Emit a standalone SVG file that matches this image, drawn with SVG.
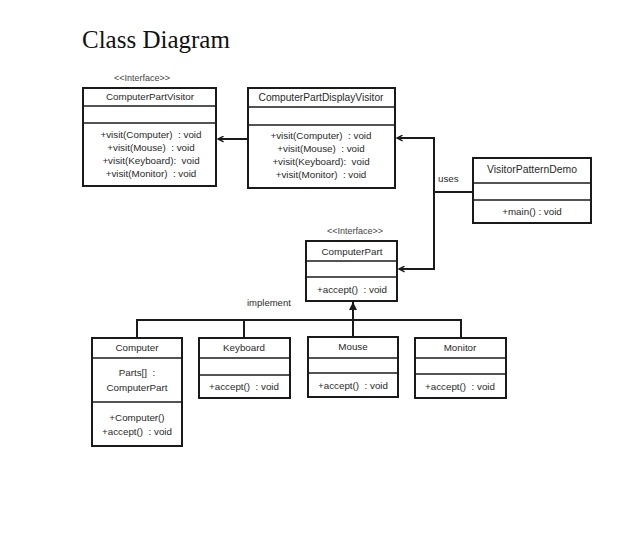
<svg xmlns="http://www.w3.org/2000/svg" width="628" height="546" viewBox="0 0 628 546">
<defs>
<marker id="open" viewBox="0 0 10 10" refX="9" refY="5" markerWidth="7" markerHeight="7" markerUnits="userSpaceOnUse" orient="auto">
<path d="M1,1 L9,5 L1,9" fill="none" stroke="#1a1a1a" stroke-width="2"/>
</marker>
<marker id="filled" viewBox="0 0 10 10" refX="10" refY="5" markerWidth="10" markerHeight="8" markerUnits="userSpaceOnUse" orient="auto">
<path d="M0,0 L10,5 L0,10 Z" fill="#1a1a1a"/>
</marker>
</defs>
<style>
.box{fill:#fff;stroke:#1a1a1a;stroke-width:2}
.div{stroke:#1a1a1a;stroke-width:1.6}
.t{font-family:"Liberation Sans",Arial,sans-serif;font-size:9.8px;fill:#2a2a2a;text-anchor:middle;white-space:pre}
.s{font-family:"Liberation Sans",Arial,sans-serif;font-size:9px;fill:#444;text-anchor:middle}
.c{fill:none;stroke:#1a1a1a;stroke-width:2}
</style>
<rect width="628" height="546" fill="#fff"/>
<text x="82" y="48" font-family="Liberation Serif,'Times New Roman',serif" font-size="25" fill="#111">Class Diagram</text>

<g id="connectors">
<line class="c" x1="248" y1="139" x2="218" y2="139" marker-end="url(#open)"/>
<polyline class="c" points="473,192 434,192"/>
<polyline class="c" points="434,192 434,138 397,138" marker-end="url(#open)"/>
<polyline class="c" points="434,192 434,269 399,269" marker-end="url(#open)"/>
<text x="438" y="182" class="t" style="text-anchor:start">uses</text>
<polyline class="c" points="137,338 137,320 461,320 461,338"/>
<line class="c" x1="244" y1="320" x2="244" y2="338"/>
<line class="c" x1="353" y1="337" x2="353" y2="302" marker-end="url(#filled)"/>
<text x="247" y="306" class="t" style="text-anchor:start;font-size:9.5px">implement</text>
</g>

<g id="ComputerPartVisitor">
<text x="142" y="81" class="s">&lt;&lt;Interface&gt;&gt;</text>
<rect class="box" x="83" y="88" width="133" height="98"/>
<line class="div" x1="83" y1="106" x2="216" y2="106"/>
<line class="div" x1="83" y1="123" x2="216" y2="123"/>
<text x="150" y="100" class="t">ComputerPartVisitor</text>
<text x="151" y="138" class="t">+visit(Computer)  : void</text>
<text x="151" y="151" class="t">+visit(Mouse)  : void</text>
<text x="151" y="164" class="t">+visit(Keyboard):  void</text>
<text x="151" y="177" class="t">+visit(Monitor)  : void</text>
</g>

<g id="ComputerPartDisplayVisitor">
<rect class="box" x="248" y="88" width="147" height="100"/>
<line class="div" x1="248" y1="107" x2="395" y2="107"/>
<line class="div" x1="248" y1="125" x2="395" y2="125"/>
<text x="321" y="101" class="t" style="font-size:10.2px">ComputerPartDisplayVisitor</text>
<text x="321" y="139" class="t">+visit(Computer)  : void</text>
<text x="321" y="152" class="t">+visit(Mouse)  : void</text>
<text x="321" y="165" class="t">+visit(Keyboard):  void</text>
<text x="321" y="178" class="t">+visit(Monitor)  : void</text>
</g>

<g id="VisitorPatternDemo">
<rect class="box" x="473" y="158" width="118" height="65"/>
<line class="div" x1="473" y1="183" x2="591" y2="183"/>
<line class="div" x1="473" y1="200" x2="591" y2="200"/>
<text x="532" y="173" class="t" style="font-size:10.4px">VisitorPatternDemo</text>
<text x="532" y="215" class="t">+main() : void</text>
</g>

<g id="ComputerPart">
<text x="355" y="234" class="s">&lt;&lt;Interface&gt;&gt;</text>
<rect class="box" x="306" y="241" width="91" height="60"/>
<line class="div" x1="306" y1="261" x2="397" y2="261"/>
<line class="div" x1="306" y1="277" x2="397" y2="277"/>
<text x="352" y="255" class="t">ComputerPart</text>
<text x="352" y="293" class="t">+accept()  : void</text>
</g>

<g id="Computer">
<rect class="box" x="92" y="338" width="90" height="108"/>
<line class="div" x1="92" y1="358" x2="182" y2="358"/>
<line class="div" x1="92" y1="402" x2="182" y2="402"/>
<text x="137" y="351" class="t">Computer</text>
<text x="137" y="376" class="t">Parts[]  :</text>
<text x="137" y="391" class="t">ComputerPart</text>
<text x="137" y="421" class="t">+Computer()</text>
<text x="137" y="435" class="t">+accept()  : void</text>
</g>

<g id="Keyboard">
<rect class="box" x="199" y="338" width="91" height="60"/>
<line class="div" x1="199" y1="358" x2="290" y2="358"/>
<line class="div" x1="199" y1="375" x2="290" y2="375"/>
<text x="244" y="351" class="t">Keyboard</text>
<text x="244" y="390" class="t">+accept()  : void</text>
</g>

<g id="Mouse">
<rect class="box" x="308" y="337" width="90" height="60"/>
<line class="div" x1="308" y1="358" x2="398" y2="358"/>
<line class="div" x1="308" y1="373" x2="398" y2="373"/>
<text x="353" y="350" class="t">Mouse</text>
<text x="353" y="389" class="t">+accept()  : void</text>
</g>

<g id="Monitor">
<rect class="box" x="415" y="338" width="91" height="60"/>
<line class="div" x1="415" y1="358" x2="506" y2="358"/>
<line class="div" x1="415" y1="374" x2="506" y2="374"/>
<text x="460" y="351" class="t">Monitor</text>
<text x="460" y="390" class="t">+accept()  : void</text>
</g>
</svg>
